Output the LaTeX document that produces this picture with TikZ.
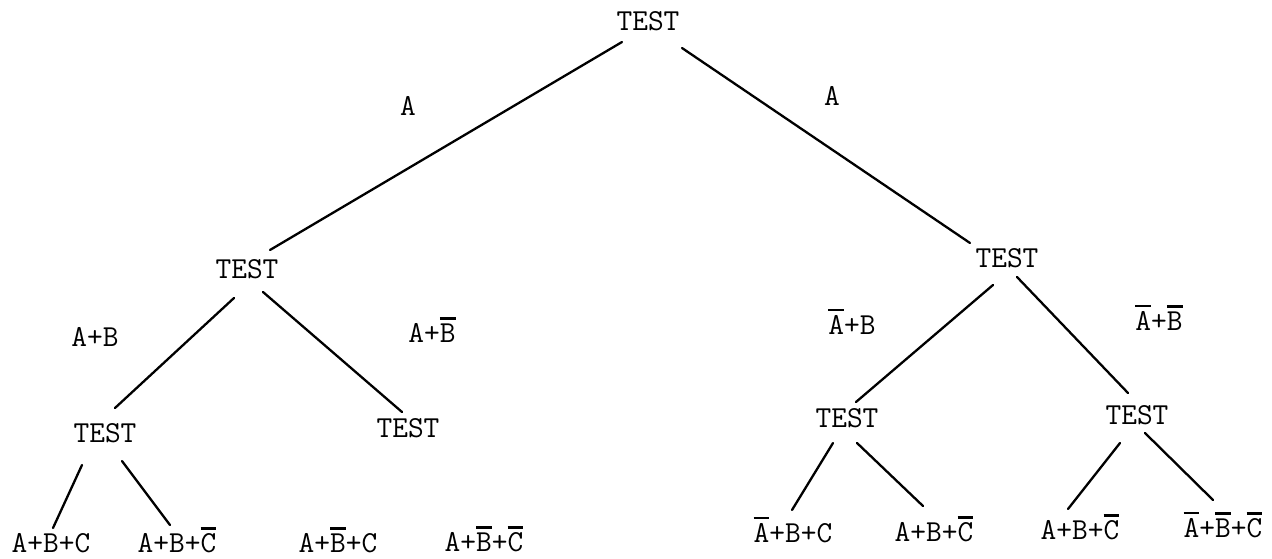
\documentclass[tikz,border=0pt]{standalone}
\usepackage{fontspec}
\newcommand\ob[1]{\vbox{\hrule height 2.4pt\kern 3.5pt\hbox{#1}}}
\tikzset{
  lbl/.style={anchor=base, inner sep=0pt, font=\fontsize{30.5}{34}\selectfont\ttfamily},
  edge/.style={line width=2.3pt, line cap=round}
}
\begin{document}
\begin{tikzpicture}[x=1pt, y=-1pt]
\useasboundingbox (0,0) rectangle (1272,559);
% test nodes
\node[lbl] (root) at (648,31) {TEST};
\node[lbl] (L) at (247,278) {TEST};
\node[lbl] (R) at (1007,267) {TEST};
\node[lbl] (LL) at (105,442) {TEST};
\node[lbl] (LR) at (408,437) {TEST};
\node[lbl] (RL) at (847,427) {TEST};
\node[lbl] (RR) at (1137,424) {TEST};
% leaves
\node[lbl] (l1) at (51,552) {A+B+C};
\node[lbl] (l2) at (177,552) {A+B+\ob{C}};
\node[lbl] (l3) at (338,552) {A+\ob{B}+C};
\node[lbl] (l4) at (484,551) {A+\ob{B}+\ob{C}};
\node[lbl] (r1) at (793,542) {\ob{A}+B+C};
\node[lbl] (r2) at (934,541) {A+B+\ob{C}};
\node[lbl] (r3) at (1080,539) {A+B+\ob{C}};
\node[lbl] (r4) at (1223,537) {\ob{A}+\ob{B}+\ob{C}};
% branch labels
\node[lbl] (a1) at (408,116) {A};
\node[lbl] (a2) at (832,106) {A};
\node[lbl] (b1) at (95,346) {A+B};
\node[lbl] (b2) at (432,342) {A+\ob{B}};
\node[lbl] (b3) at (852,334) {\ob{A}+B};
\node[lbl] (b4) at (1159,330) {\ob{A}+\ob{B}};
% edges
\draw[edge] ([shift={(-26,11)}]root.base) -- ([shift={(23,-28)}]L.base);
\draw[edge] ([shift={(34,17)}]root.base) -- ([shift={(-37,-24)}]R.base);
\draw[edge] ([shift={(-13,20)}]L.base) -- ([shift={(10,-34)}]LL.base);
\draw[edge] ([shift={(16,14)}]L.base) -- ([shift={(-6,-25)}]LR.base);
\draw[edge] ([shift={(-14,18)}]R.base) -- ([shift={(9,-25)}]RL.base);
\draw[edge] ([shift={(10,10)}]R.base) -- ([shift={(-9,-31)}]RR.base);
\draw[edge] ([shift={(-23,23)}]LL.base) -- ([shift={(2,-24)}]l1.base);
\draw[edge] ([shift={(17,19)}]LL.base) -- ([shift={(-7,-27)}]l2.base);
\draw[edge] ([shift={(-14,16)}]RL.base) -- ([shift={(-1,-32)}]r1.base);
\draw[edge] ([shift={(10,16)}]RL.base) -- ([shift={(-11,-35)}]r2.base);
\draw[edge] ([shift={(-17,19)}]RR.base) -- ([shift={(-12,-30)}]r3.base);
\draw[edge] ([shift={(8,9)}]RR.base) -- ([shift={(-10,-37)}]r4.base);
\end{tikzpicture}
\end{document}
